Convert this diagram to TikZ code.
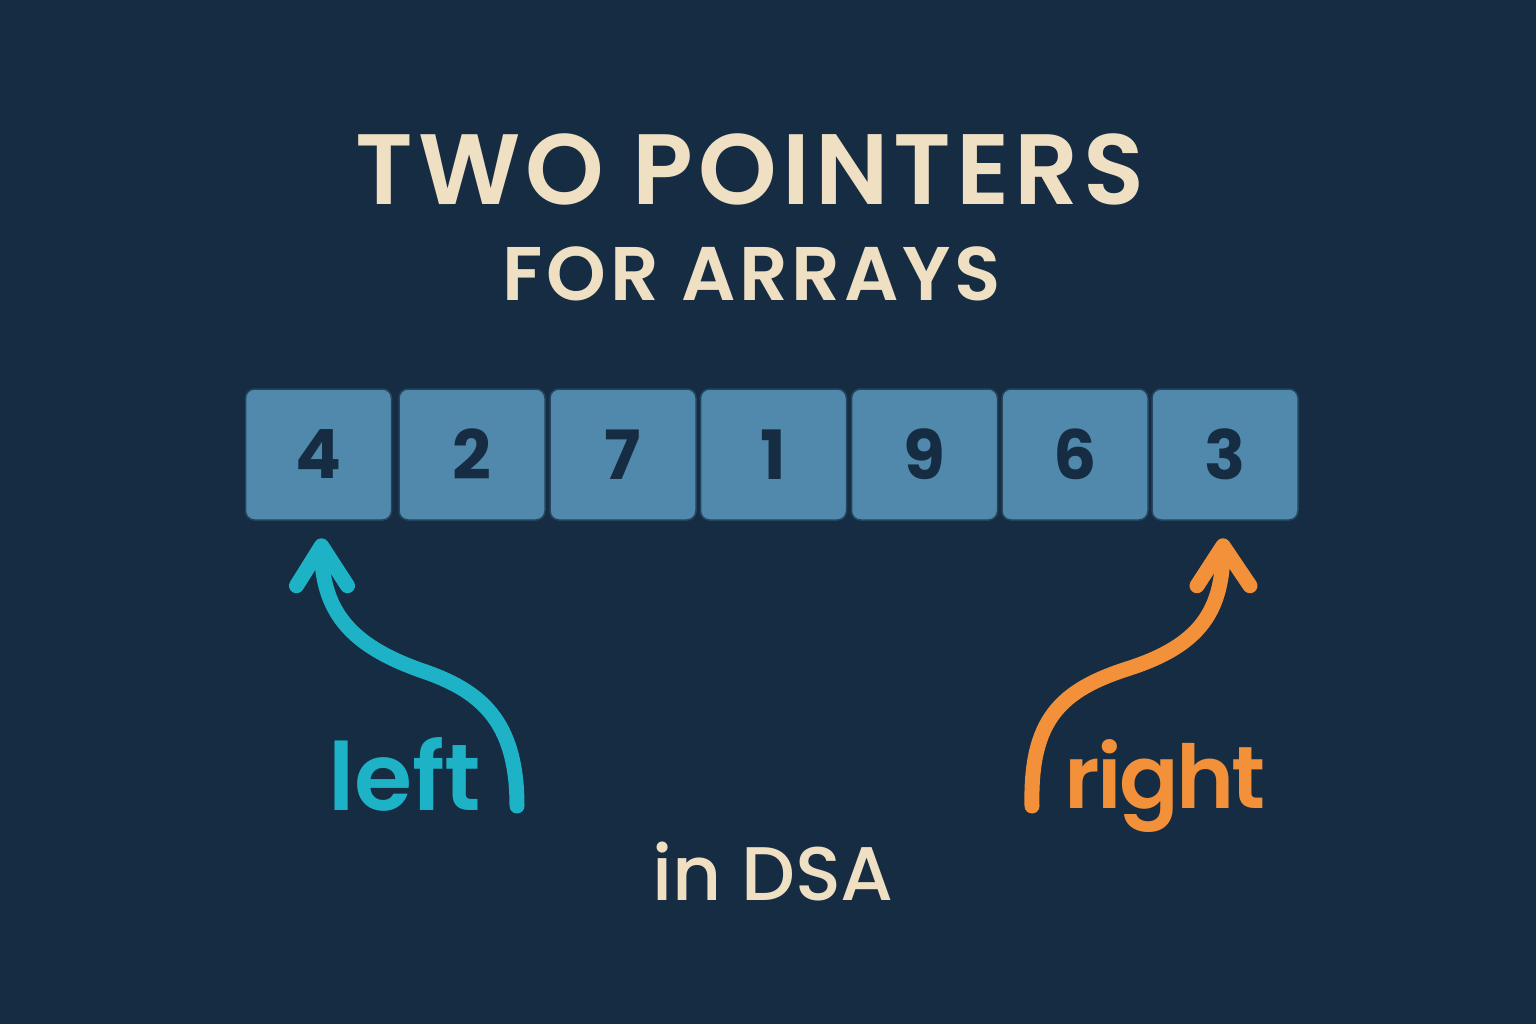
\documentclass[tikz,border=0pt]{standalone}
\usepackage{fontspec}
\setmainfont{Poppins}
\newfontfamily\titlefont[LetterSpace=5]{Poppins SemiBold}
\newfontfamily\semifont{Poppins SemiBold}
\newfontfamily\tightfont[LetterSpace=-3]{Poppins SemiBold}
\newfontfamily\medfont{Poppins Medium}
\usetikzlibrary{calc,positioning}
\definecolor{bgnavy}{HTML}{162C42}
\definecolor{cream}{HTML}{EFDFC3}
\definecolor{cellblue}{HTML}{5089AB}
\definecolor{cellline}{HTML}{23465E}
\definecolor{leftcyan}{HTML}{1DB2C6}
\definecolor{rightorange}{HTML}{F3913A}
\begin{document}
\begin{tikzpicture}[x=1pt,y=-1pt,line join=round,line cap=round,
  cell/.style={draw=cellline,line width=1.5pt,fill=cellblue,rounded corners=9pt,
    minimum width=146pt,minimum height=131pt,inner sep=0pt,text=bgnavy,
    font=\bfseries\fontsize{68}{72}\selectfont},
  pointer/.style={line width=15pt}]
  \fill[bgnavy] (0,0) rectangle (1536,1024);
  \useasboundingbox (0,0) rectangle (1536,1024);
  % title
  \node[anchor=base,text=cream,font=\titlefont\fontsize{100}{110}\selectfont] (title) at (750,205){TWO POINTERS};
  \node[anchor=base,text=cream,font=\titlefont\fontsize{76}{86}\selectfont] (subtitle) at (752,300){FOR ARRAYS};
  % array cells
  \node[cell] (c1) at (318.5,454.5){4};
  \node[cell] (c2) at (472,454.5){2};
  \node[cell] (c3) at (623,454.5){7};
  \node[cell] (c4) at (773.5,454.5){1};
  \node[cell] (c5) at (924.5,454.5){9};
  \node[cell] (c6) at (1075,454.5){6};
  \node[cell] (c7) at (1225,454.5){3};
  % pointer labels
  \node[anchor=base west,inner sep=0pt,text=leftcyan,font=\semifont\fontsize{94}{100}\selectfont] (lefttxt) at (328,810){left};
  \node[anchor=base west,inner sep=0pt,text=rightorange,font=\tightfont\fontsize{88}{100}\selectfont] (righttxt) at (1064,808){right};
  \node[anchor=base,text=cream,font=\medfont\fontsize{76}{80}\selectfont] (dsa) at (773,900){in DSA};
  % left pointer
  \coordinate (ls) at (517,806);
  \coordinate (lt) at ($(c1.south)+(3,25)$);
  \draw[pointer,leftcyan] (ls) .. controls (517,720) and (480,690) .. (420,670)
    .. controls (350,645) and ($(lt)+(0,65)$) .. ($(lt)+(0,3)$);
  \draw[pointer,leftcyan] ($(lt)+(-25,40)$)--(lt)--($(lt)+(26,40)$);
  % right pointer
  \coordinate (rs) at (1032,806);
  \coordinate (rt) at ($(c7.south)+(-2,25)$);
  \draw[pointer,rightorange] (rs) .. controls (1030,720) and (1060,690) .. (1130,668)
    .. controls (1200,645) and ($(rt)+(0,65)$) .. ($(rt)+(0,3)$);
  \draw[pointer,rightorange] ($(rt)+(-26,40)$)--(rt)--($(rt)+(27,40)$);
\end{tikzpicture}
\end{document}
